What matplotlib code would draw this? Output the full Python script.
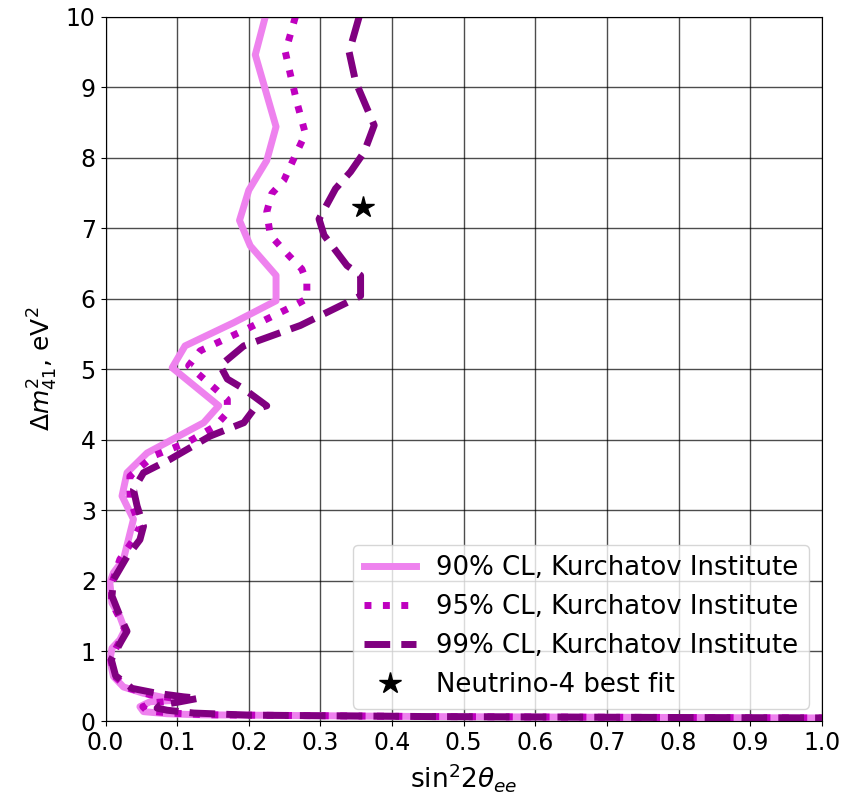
import matplotlib
matplotlib.use("Agg")
import matplotlib.pyplot as plt

# Exclusion contours (sin^2 2theta_ee, Delta m^2_41 in eV^2)
x90 = [0.223, 0.209, 0.238, 0.225, 0.200, 0.187, 0.202, 0.238, 0.238, 0.179,
       0.111, 0.093, 0.158, 0.137, 0.058, 0.030, 0.023, 0.039, 0.025, 0.011,
       0.006, 0.009, 0.020, 0.027, 0.020, 0.009, 0.006, 0.011, 0.025, 0.053,
       0.086, 0.114, 0.062, 0.048, 0.053, 0.086, 0.132, 0.20, 0.45, 0.70, 1.0]
y90 = [10.0, 9.46, 8.44, 7.96, 7.54, 7.11, 6.75, 6.33, 5.97, 5.66,
       5.33, 5.02, 4.48, 4.24, 3.81, 3.53, 3.20, 2.87, 2.30, 2.11,
       1.97, 1.68, 1.49, 1.30, 1.16, 1.04, 0.87, 0.64, 0.49, 0.40,
       0.33, 0.31, 0.28, 0.21, 0.14, 0.11, 0.095, 0.09, 0.07, 0.06, 0.05]

x95 = [0.265, 0.251, 0.256, 0.267, 0.279, 0.267, 0.249, 0.232, 0.225, 0.230,
       0.256, 0.274, 0.281, 0.281, 0.263, 0.197, 0.132, 0.116, 0.151, 0.170,
       0.170, 0.153, 0.114, 0.067, 0.034, 0.034, 0.048, 0.039, 0.020, 0.009,
       0.008, 0.018, 0.028, 0.020, 0.007, 0.012, 0.030, 0.062, 0.095, 0.120,
       0.070, 0.052, 0.058, 0.090, 0.14, 0.20, 0.45, 0.70, 1.0]
y95 = [10.0, 9.50, 9.27, 8.79, 8.34, 8.08, 7.68, 7.49, 7.23, 6.90,
       6.61, 6.42, 6.23, 6.00, 5.90, 5.57, 5.26, 5.05, 4.74, 4.57,
       4.38, 4.19, 3.96, 3.77, 3.48, 3.15, 2.77, 2.58, 2.30, 1.97,
       1.70, 1.50, 1.28, 1.14, 0.90, 0.65, 0.48, 0.38, 0.33, 0.31,
       0.27, 0.21, 0.15, 0.12, 0.095, 0.09, 0.07, 0.06, 0.05]

x99 = [0.354, 0.340, 0.349, 0.375, 0.361, 0.342, 0.321, 0.298, 0.305, 0.337,
       0.356, 0.356, 0.272, 0.193, 0.160, 0.170, 0.193, 0.225, 0.207, 0.193,
       0.146, 0.090, 0.053, 0.039, 0.044, 0.053, 0.048, 0.030, 0.011, 0.009,
       0.020, 0.030, 0.022, 0.008, 0.014, 0.037, 0.072, 0.109, 0.130, 0.104,
       0.076, 0.072, 0.086, 0.123, 0.20, 0.45, 0.70, 1.0]
y99 = [10.0, 9.50, 9.08, 8.46, 8.08, 7.80, 7.56, 7.13, 6.90, 6.47,
       6.33, 6.04, 5.62, 5.33, 5.05, 4.86, 4.72, 4.48, 4.43, 4.24,
       4.05, 3.72, 3.53, 3.29, 3.06, 2.77, 2.58, 2.34, 2.01, 1.78,
       1.50, 1.28, 1.14, 0.88, 0.65, 0.47, 0.40, 0.35, 0.33, 0.28,
       0.23, 0.19, 0.16, 0.12, 0.09, 0.07, 0.06, 0.05]

best_fit_x = [0.36]
best_fit_y = [7.3]

labels = ["90% CL, Kurchatov Institute",
          "95% CL, Kurchatov Institute",
          "99% CL, Kurchatov Institute",
          "Neutrino-4 best fit"]

fig = plt.figure(figsize=(8.58, 7.99), dpi=100)
ax = fig.add_axes([0.123, 0.097, 0.835, 0.882])

ax.plot(x90, y90, color="violet", lw=5, ls="-", label=labels[0])
ax.plot(x95, y95, color="m", lw=5, ls=":", label=labels[1])
ax.plot(x99, y99, color="purple", lw=5, ls="--", label=labels[2])
ax.plot(best_fit_x, best_fit_y, ls="none", marker="*", color="k",
        markersize=16, label=labels[3])

ax.set_xlim(0, 1)
ax.set_ylim(0, 10)
ax.set_xticks([i / 10 for i in range(11)])
ax.set_yticks(range(11))
ax.tick_params(labelsize=17)
ax.grid(True, color="k", alpha=0.7, lw=1)

ax.set_xlabel(r"sin$^2 2\theta_{ee}$", fontsize=19)
ax.set_ylabel(r"$\Delta m^2_{41}$, eV$^2$", fontsize=18)

ax.legend(loc="lower right", fontsize=18.7)

fig.savefig("out.png", dpi=100)
